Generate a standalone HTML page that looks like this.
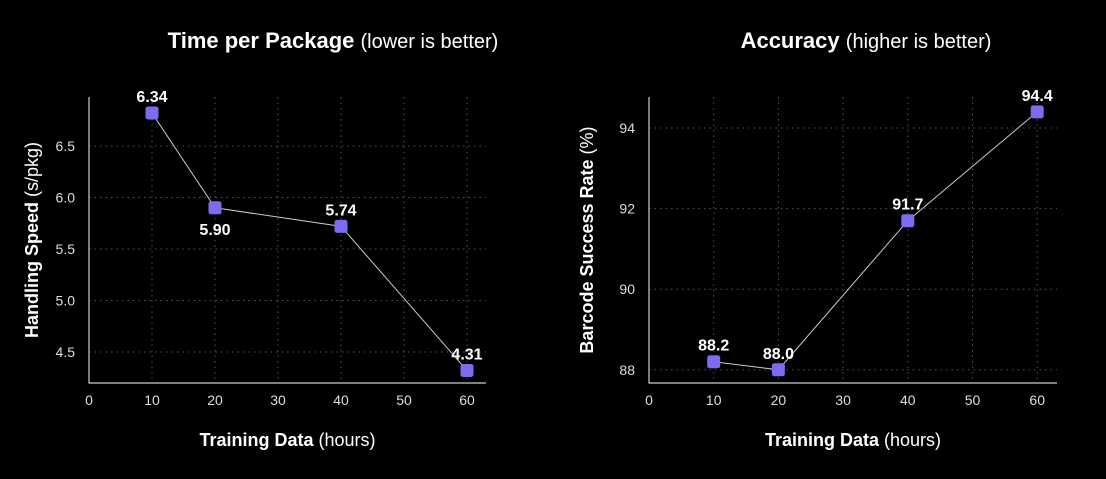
<!DOCTYPE html>
<html><head><meta charset="utf-8"><style>
body{margin:0;background:#000;width:1106px;height:474px;overflow:hidden;font-family:"Liberation Sans",sans-serif}
svg text{font-family:"Liberation Sans",sans-serif}
</style></head><body>
<svg id="s" width="1106" height="474"></svg>
<script>
// Left chart data
const leftX = [10, 20, 40, 60];
const leftY = [6.82, 5.90, 5.72, 4.32];
const leftLabels = ["6.34", "5.90", "5.74", "4.31"];
const leftYTicks = [4.5, 5.0, 5.5, 6.0, 6.5];
const leftYTickLabels = ["4.5", "5.0", "5.5", "6.0", "6.5"];
// Right chart data
const rightX = [10, 20, 40, 60];
const rightY = [88.2, 88.0, 91.7, 94.4];
const rightLabels = ["88.2", "88.0", "91.7", "94.4"];
const rightYTicks = [88, 90, 92, 94];
const rightYTickLabels = ["88", "90", "92", "94"];
const xTicks = [0, 10, 20, 30, 40, 50, 60];

const NS = "http://www.w3.org/2000/svg";
const svg = document.getElementById('s');
function el(tag, attrs, parent) {
  const e = document.createElementNS(NS, tag);
  for (const k in attrs) e.setAttribute(k, attrs[k]);
  (parent || svg).appendChild(e);
  return e;
}
function chart(cfg) {
  const g = el('g', {});
  
  
  const sx = v => cfg.x0 + (v - 0) * cfg.kx;
  const sy = v => cfg.yRef + (cfg.vRef - v) * cfg.ky;
  // grid
  xTicks.forEach((t, i) => {
    if (t > 0) {
      const l = el('line', {x1: sx(t), x2: sx(t), y1: cfg.top, y2: cfg.bottom, stroke: '#555', 'stroke-dasharray': '1.5 4', 'stroke-width': 1}, g);
      
      
    }
    const tx = el('text', {x: sx(t), y: cfg.bottom + 22, fill: '#ddd', 'font-size': 14, 'text-anchor': 'middle'}, g);
    tx.textContent = t;
    
    
  });
  cfg.yTicks.forEach((t, i) => {
    const l = el('line', {x1: cfg.x0, x2: cfg.right, y1: sy(t), y2: sy(t), stroke: '#555', 'stroke-dasharray': '1.5 4', 'stroke-width': 1}, g);
    
    
    const tx = el('text', {x: cfg.x0 - 14, y: sy(t) + 5, fill: '#ddd', 'font-size': 14, 'text-anchor': 'end'}, g);
    tx.textContent = cfg.yTickLabels[i];
    
    
  });
  const ax = el('path', {d: `M${cfg.x0} ${cfg.top}V${cfg.bottom}H${cfg.right}`, stroke: '#ccc', fill: 'none', 'stroke-width': 1.2}, g);
  
  
  const pts = cfg.xs.map((x, i) => sx(x) + ',' + sy(cfg.ys[i])).join(' ');
  const pl = el('polyline', {points: pts, fill: 'none', stroke: '#ccc', 'stroke-width': 1}, g);
  
  
  cfg.xs.forEach((x, i) => {
    const r = el('rect', {x: sx(x) - 6.5, y: sy(cfg.ys[i]) - 6.5, width: 13, height: 13, rx: 2.5, fill: '#7b6cf0'}, g);
    
    
    const below = cfg.below[i];
    const lt = el('text', {x: sx(x), y: sy(cfg.ys[i]) + (below ? 27 : -11), fill: '#fff', 'font-size': 16, 'font-weight': 'bold', 'text-anchor': 'middle'}, g);
    lt.textContent = cfg.labels[i];
    
    
  });
  const ti = el('text', {x: cfg.titleX, y: 48, fill: '#fff', 'font-size': 22, 'text-anchor': 'middle'}, g);
  ti.innerHTML = `<tspan font-weight="bold">${cfg.title}</tspan> <tspan font-size="20">${cfg.sub}</tspan>`;
  
  
  const xt = el('text', {x: (cfg.x0 + cfg.right) / 2, y: 446, fill: '#fff', 'font-size': 18, 'text-anchor': 'middle'}, g);
  xt.innerHTML = '<tspan font-weight="bold">Training Data</tspan> (hours)';
  
  
  const cy = (cfg.top + cfg.bottom) / 2;
  const yt = el('text', {x: cfg.yTitleX, y: cy, fill: '#fff', 'font-size': 18, 'text-anchor': 'middle', transform: `rotate(-90 ${cfg.yTitleX} ${cy})`}, g);
  yt.innerHTML = `<tspan font-weight="bold">${cfg.yTitle}</tspan> ${cfg.yUnit}`;
  
  
}
chart({name: 'time-per-package-chart', x0: 89, kx: 6.3, right: 486, top: 97, bottom: 383,
  yRef: 146, vRef: 6.5, ky: 103, xs: leftX, ys: leftY, labels: leftLabels,
  below: [false, true, false, false], yTicks: leftYTicks, yTickLabels: leftYTickLabels,
  title: 'Time per Package', sub: '(lower is better)', titleX: 333, yTitleX: 38,
  yTitle: 'Handling Speed', yUnit: '(s/pkg)'});
chart({name: 'accuracy-chart', x0: 649, kx: 6.47, right: 1057, top: 97, bottom: 383,
  yRef: 128, vRef: 94, ky: 40.3, xs: rightX, ys: rightY, labels: rightLabels,
  below: [false, false, false, false], yTicks: rightYTicks, yTickLabels: rightYTickLabels,
  title: 'Accuracy', sub: '(higher is better)', titleX: 866, yTitleX: 593,
  yTitle: 'Barcode Success Rate', yUnit: '(%)'});
</script>
</body></html>
